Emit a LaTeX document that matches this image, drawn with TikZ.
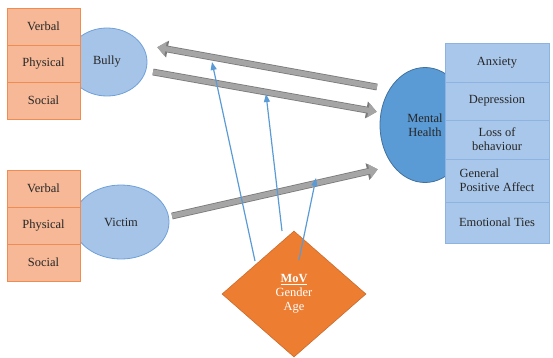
\documentclass[tikz,border=0pt]{standalone}
\usepackage{fontspec}
\setmainfont{Liberation Serif}
\usetikzlibrary{shapes.geometric,arrows.meta}

\definecolor{facetfill}{HTML}{F6B896}
\definecolor{facetline}{HTML}{F08C50}
\definecolor{rolefill}{HTML}{A6C4E8}
\definecolor{roleline}{HTML}{6FA0DA}
\definecolor{healthfill}{HTML}{5B9BD5}
\definecolor{healthline}{HTML}{41719C}
\definecolor{outfill}{HTML}{A9C7EA}
\definecolor{outline}{HTML}{8DB3E2}
\definecolor{flowgray}{HTML}{A5A5A5}
\definecolor{flowedge}{HTML}{7A7A7A}
\definecolor{modblue}{HTML}{5B9BD5}
\definecolor{movorange}{HTML}{ED7D31}
\definecolor{textdark}{HTML}{262626}

\begin{document}
\begin{tikzpicture}[x=1bp,y=-1bp,
    facet/.style={
        rectangle,
        minimum width=73bp,
        minimum height=37bp,
        draw=facetline,
        fill=facetfill,
        line width=0.8pt,
        text=textdark,
        font=\fontsize{12.5}{14}\selectfont
    },
    role/.style={
        ellipse,
        draw=roleline,
        fill=rolefill,
        line width=0.8pt,
        text=textdark,
        font=\fontsize{12.5}{14}\selectfont
    },
    outcome/.style={
        rectangle,
        minimum width=104bp,
        draw=outline,
        fill=outfill,
        line width=0.8pt,
        text=textdark,
        align=center,
        font=\fontsize{12.5}{14}\selectfont
    },
    flow/.style={
        preaction={draw=flowedge, line width=6.8bp, -{Triangle[length=10.5bp,width=16.5bp]}},
        line width=5.2bp,
        draw=flowgray,
        shorten >=1.3bp,
        -{Triangle[length=8.4bp,width=13.8bp]}
    },
    moderation/.style={
        line width=1.2bp,
        draw=modblue,
        -{Triangle[length=8bp,width=6bp]}
    }
]
\useasboundingbox (0,0) rectangle (553,357);

% Roles
\node[role, minimum width=80bp, minimum height=68bp] (bully) at (107,62) {Bully};
\node[role, minimum width=96bp, minimum height=74bp] (victim) at (121,222) {Victim};
\node[role, draw=healthline, fill=healthfill, minimum width=90bp, minimum height=115bp, align=center] (health) at (425,125) {Mental\\Health};

% Forms of bullying
\node[facet] (bverbal) at (43.5,26.5) {Verbal};
\node[facet] (bphysical) at (43.5,63.5) {Physical};
\node[facet] (bsocial) at (43.5,100.5) {Social};
\node[facet] (vverbal) at (43.5,188.5) {Verbal};
\node[facet] (vphysical) at (43.5,225.5) {Physical};
\node[facet] (vsocial) at (43.5,262.5) {Social};

% Mental health outcomes
\node[outcome, minimum height=39bp] (anxiety) at (497,62.5) {Anxiety};
\node[outcome, minimum height=38bp] (depression) at (497,101) {Depression};
\node[outcome, minimum height=39bp] (loss) at (497,139.5) {Loss of\\behaviour};
\node[outcome, minimum height=43bp, align=left] (affect) at (497,180.5) {General\\Positive Affect};
\node[outcome, minimum height=41bp] (ties) at (497,222.5) {Emotional Ties};

% Paths between roles and mental health
\coordinate (backtail) at (377,87);
\coordinate (backtip) at (156,47);
\coordinate (bullytail) at (153,72);
\coordinate (bullytip) at (378,112);
\coordinate (victimtail) at (172,216);
\coordinate (victimtip) at (379,169);
\draw[flow] (backtail) -- (backtip);
\draw[flow] (bullytail) -- (bullytip);
\draw[flow] (victimtail) -- (victimtip);

% Moderating variables
\node[diamond, minimum width=144bp, minimum height=126bp, inner sep=0pt, fill=movorange, draw=movorange!85!black, line width=0.6pt, text=white, align=center, font=\fontsize{12.5}{14}\selectfont] (mov) at (294,294) {\textbf{\underline{MoV}}\\Gender\\Age};

\coordinate (mod1) at (255,261);
\coordinate (mod2) at (282,231);
\coordinate (mod3) at (299,260);
\coordinate (modtip1) at (212,62);
\coordinate (modtip2) at (266,94);
\coordinate (modtip3) at (316,178);
\draw[moderation] (mod1) -- (modtip1);
\draw[moderation] (mod2) -- (modtip2);
\draw[moderation] (mod3) -- (modtip3);

\end{tikzpicture}
\end{document}
